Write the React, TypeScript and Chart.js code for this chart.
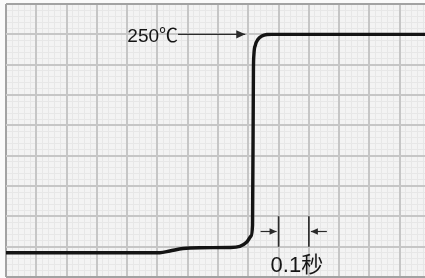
import React, { useEffect, useRef } from "react";
import { Chart, registerables } from "chart.js";

Chart.register(...registerables);

// Time in milliseconds (one major grid division = 100 ms = 0.1 s)
const timeMs = [0, 508, 541, 584, 640, 739, 772, 795, 809, 814, 817, 818.5, 823.4, 831.7, 844.9, 861.4, 878, 1400];
// Temperature in °C
const tempC = [34, 34, 35.7, 38.2, 39, 39.2, 40.2, 44.6, 50.5, 61.4, 214.7, 229.6, 239.4, 244.9, 248.3, 249.8, 250, 250];

const X_MIN = 0;
const X_MAX = 1400;
const X_MAJOR = 100;
const X_MINOR = 20;
const Y_MIN = 10;
const Y_MAX = 280;
const Y_MAJOR = 30;
const Y_MINOR = 6;

const peakLabel = "250℃";
const peakTemp = 250;
const spanLabel = "0.1秒";
const spanStart = 900;
const spanEnd = 1000;

const BG = "#f3f3f3";
const MAJOR = "#c6c6c6";
const MINOR = "#e7e7e7";
const EDGE = "#a2a2a2";
const INK = "#141414";
const FONT = '"Liberation Sans", Arial, "Noto Sans CJK SC", sans-serif';

function arrow(ctx: CanvasRenderingContext2D, x1: number, y1: number, x2: number, y2: number, head: number) {
  ctx.beginPath();
  ctx.moveTo(x1, y1);
  ctx.lineTo(x2, y2);
  ctx.stroke();
  const dir = Math.sign(x2 - x1);
  ctx.beginPath();
  ctx.moveTo(x2, y2);
  ctx.lineTo(x2 - dir * head, y2 - head * 0.45);
  ctx.lineTo(x2 - dir * head, y2 + head * 0.45);
  ctx.closePath();
  ctx.fill();
}

const bgPlugin = {
  id: "bg",
  beforeDraw(chart: any) {
    const { ctx, chartArea } = chart;
    ctx.save();
    ctx.fillStyle = "#fafafa";
    ctx.fillRect(0, 0, chart.width, chart.height);
    ctx.fillStyle = BG;
    ctx.fillRect(chartArea.left, chartArea.top, chartArea.right - chartArea.left, chartArea.bottom - chartArea.top);
    ctx.restore();
  },
};

const annotPlugin = {
  id: "annot",
  afterDatasetsDraw(chart: any) {
    const { ctx } = chart;
    const xs = chart.scales.x;
    const ys = chart.scales.y;
    ctx.save();
    ctx.strokeStyle = "#2a2a2a";
    ctx.fillStyle = "#2a2a2a";
    ctx.lineWidth = 1.4;

    // 250℃ label with arrow
    const yPeak = ys.getPixelForValue(peakTemp);
    const textRight = xs.getPixelForValue(568);
    arrow(ctx, textRight, yPeak, xs.getPixelForValue(790), yPeak, 9);
    ctx.fillStyle = "#151515";
    ctx.font = `19px ${FONT}`;
    ctx.textAlign = "right";
    ctx.textBaseline = "alphabetic";
    ctx.fillText(peakLabel, textRight, yPeak + 8);

    // 0.1秒 span marker
    ctx.fillStyle = "#2a2a2a";
    const x1 = xs.getPixelForValue(spanStart);
    const x2 = xs.getPixelForValue(spanEnd);
    const yt = ys.getPixelForValue(70);
    const yb = ys.getPixelForValue(40);
    const ya = ys.getPixelForValue(55);
    ctx.lineWidth = 1.6;
    ctx.beginPath();
    ctx.moveTo(x1, yt);
    ctx.lineTo(x1, yb);
    ctx.moveTo(x2, yt);
    ctx.lineTo(x2, yb);
    ctx.stroke();
    ctx.lineWidth = 1.2;
    arrow(ctx, x1 - 18, ya, x1 - 2, ya, 7);
    arrow(ctx, x2 + 18, ya, x2 + 2, ya, 7);

    ctx.fillStyle = "#151515";
    ctx.font = `22px ${FONT}`;
    ctx.textAlign = "left";
    ctx.textBaseline = "alphabetic";
    ctx.fillText(spanLabel, x1 - 8, yb + 25);
    ctx.restore();
  },
};

function majorColor(ctx: any, min: number, max: number) {
  const v = ctx.tick ? ctx.tick.value : NaN;
  return v === min || v === max ? EDGE : MAJOR;
}

export default function App() {
  const canvasRef = useRef<HTMLCanvasElement | null>(null);

  useEffect(() => {
    const prevMargin = document.body.style.margin;
    document.body.style.margin = "0";
    const canvas = canvasRef.current;
    if (!canvas) return;
    const chart = new Chart(canvas, {
      type: "line",
      data: {
        datasets: [
          {
            data: timeMs.map((t, i) => ({ x: t, y: tempC[i] })),
            borderColor: INK,
            borderWidth: 3.4,
            pointRadius: 0,
            cubicInterpolationMode: "monotone",
            fill: false,
          },
        ],
      },
      options: {
        animation: false,
        responsive: false,
        maintainAspectRatio: false,
        layout: { padding: { left: 6, top: 4, right: 2, bottom: 1 } },
        plugins: { legend: { display: false }, tooltip: { enabled: false } },
        scales: {
          xm: {
            type: "linear",
            position: "bottom",
            min: X_MIN,
            max: X_MAX,
            z: -2,
            ticks: { display: false, stepSize: X_MINOR },
            border: { display: false },
            grid: { color: MINOR, lineWidth: 1, drawTicks: false },
          },
          ym: {
            type: "linear",
            position: "left",
            min: Y_MIN,
            max: Y_MAX,
            z: -2,
            ticks: { display: false, stepSize: Y_MINOR },
            border: { display: false },
            grid: { color: MINOR, lineWidth: 1, drawTicks: false },
          },
          x: {
            type: "linear",
            position: "bottom",
            min: X_MIN,
            max: X_MAX,
            z: -1,
            ticks: { display: false, stepSize: X_MAJOR },
            border: { display: false },
            grid: {
              color: (c: any) => majorColor(c, X_MIN, X_MAX),
              lineWidth: 2,
              drawTicks: false,
            },
          },
          y: {
            type: "linear",
            position: "left",
            min: Y_MIN,
            max: Y_MAX,
            z: -1,
            ticks: { display: false, stepSize: Y_MAJOR },
            border: { display: false },
            grid: {
              color: (c: any) => majorColor(c, Y_MIN, Y_MAX),
              lineWidth: 2,
              drawTicks: false,
            },
          },
        },
      } as any,
      plugins: [bgPlugin, annotPlugin],
    });
    return () => {
      chart.destroy();
      document.body.style.margin = prevMargin;
    };
  }, []);

  return (
    <div style={{ position: "fixed", left: 0, top: 0, width: 425, height: 278, overflow: "hidden" }}>
      <canvas ref={canvasRef} width={432} height={278} style={{ display: "block", width: 432, height: 278 }} />
    </div>
  );
}
